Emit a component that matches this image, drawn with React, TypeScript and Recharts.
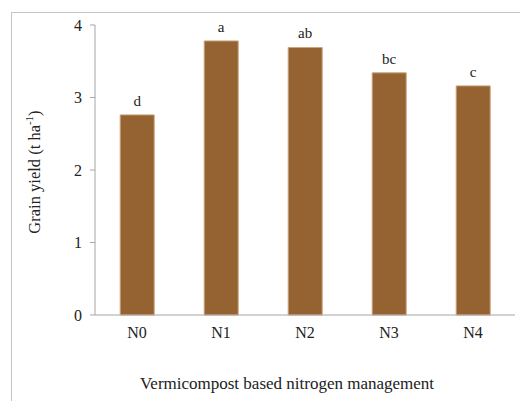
import { BarChart, Bar, XAxis, YAxis, LabelList, Label } from "recharts";

const treatments = ["N0", "N1", "N2", "N3", "N4"];
const grainYield = [2.76, 3.78, 3.69, 3.34, 3.16];
const letters = ["d", "a", "ab", "bc", "c"];
const yTicks = [0, 1, 2, 3, 4];

const data = treatments.map((name, i) => ({
  name,
  yield: grainYield[i],
  group: letters[i],
}));

const FONT = "'Liberation Serif', 'DejaVu Serif', serif";
const AXIS = "#a6a6a6";

export default function App() {
  return (
    <div
      className="fig"
      style={{
        position: "absolute",
        top: 0,
        left: 0,
        width: 520,
        height: 401,
        background: "#fff",
        overflow: "hidden",
      }}
    >
      <style>{`.fig svg text { font-family: ${FONT} !important; }`}</style>
      {/* outer frame around the figure */}
      <div
        style={{
          position: "absolute",
          left: 11,
          top: 12,
          width: 520,
          height: 400,
          borderTop: "1px solid #c4c4c4",
          borderLeft: "1px solid #c4c4c4",
        }}
      />
      <BarChart
        width={520}
        height={401}
        data={data}
        margin={{ top: 25, right: 5, left: 0, bottom: 0 }}
        barCategoryGap="30%"
        style={{ position: "absolute", top: 0, left: 0 }}
      >
        <XAxis
          dataKey="name"
          height={86}
          stroke={AXIS}
          tickLine={false}
          tickSize={0}
          tickMargin={12}
          tick={{ fill: "#222", fontSize: 16 }}
        >
          <Label
            content={({ viewBox }: any) => (
              <text
                x={viewBox.x + viewBox.width / 2 - 18}
                y={389}
                textAnchor="middle"
                fontSize={17}
                fill="#222"
              >
                Vermicompost based nitrogen management
              </text>
            )}
          />
        </XAxis>
        <YAxis
          width={95}
          domain={[0, 4]}
          ticks={yTicks}
          stroke={AXIS}
          tickSize={5}
          tickMargin={8}
          tick={{ fill: "#222", fontSize: 16 }}
        >
          <Label
            content={() => (
              <text
                x={36}
                y={172}
                transform="rotate(-90, 36, 172)"
                textAnchor="middle"
                dominantBaseline="middle"
                fontSize={16.5}
                fill="#222"
              >
                Grain yield (t ha
                <tspan dy={-6} fontSize={11}>
                  -1
                </tspan>
                <tspan dy={6}>)</tspan>
              </text>
            )}
          />
        </YAxis>
        <Bar
          dataKey="yield"
          fill="#956232"
          stroke="#c9a47c"
          strokeWidth={1}
          isAnimationActive={false}
        >
          <LabelList
            dataKey="group"
            position="top"
            offset={9}
            fill="#222"
            fontSize={15}
          />
        </Bar>
      </BarChart>
    </div>
  );
}
